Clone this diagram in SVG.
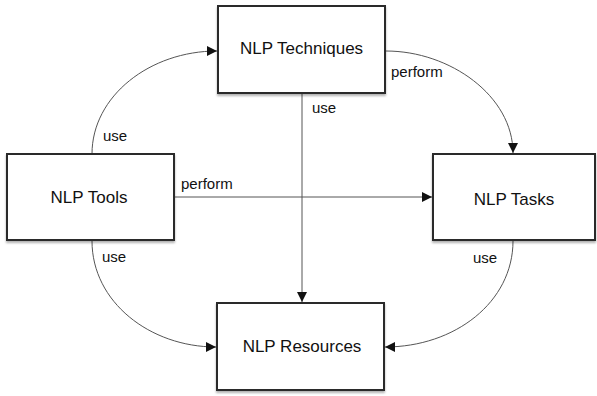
<svg xmlns="http://www.w3.org/2000/svg" width="597" height="396" viewBox="0 0 597 396">
<defs>
<marker id="arr" viewBox="0 0 10 10" refX="10" refY="5" markerWidth="10" markerHeight="10" markerUnits="userSpaceOnUse" orient="auto">
<path d="M0,0 L10,5 L0,10 z" fill="#111"/>
</marker>
<filter id="sh" x="-5%" y="-5%" width="115%" height="115%">
<feDropShadow dx="0" dy="2" stdDeviation="1" flood-color="#000" flood-opacity="0.3"/>
</filter>
</defs>
<style>
.box{fill:#fff;stroke:#2a2a2a;stroke-width:2;filter:url(#sh)}
.lbl{font-family:"Liberation Sans",Arial,sans-serif;font-size:17px;fill:#111;text-anchor:middle}
.el{font-family:"Liberation Sans",Arial,sans-serif;font-size:15px;fill:#111}
.c{fill:none;stroke:#555;stroke-width:1;marker-end:url(#arr)}
</style>
<rect width="597" height="396" fill="#fff"/>
<g id="connectors">
<path class="c" d="M92,154 C92,96 150,51 217,51"/>
<path class="c" d="M386,51 C450,51 513,96 513,153"/>
<path class="c" d="M175,197 L432,197"/>
<path class="c" d="M302,94 L302,302"/>
<path class="c" d="M92,241 C92,302 150,347 216,347"/>
<path class="c" d="M513,241 C513,302 455,347 385,347"/>
<text class="el" x="103" y="141">use</text>
<text class="el" x="391" y="77">perform</text>
<text class="el" x="312" y="113">use</text>
<text class="el" x="181" y="189">perform</text>
<text class="el" x="102" y="262">use</text>
<text class="el" x="473" y="263">use</text>
</g>
<g id="techniques">
<rect class="box" x="218" y="6" width="167" height="87"/>
<text class="lbl" x="301.5" y="54">NLP Techniques</text>
</g>
<g id="tools">
<rect class="box" x="7" y="154" width="167" height="86"/>
<text class="lbl" x="89" y="203">NLP Tools</text>
</g>
<g id="tasks">
<rect class="box" x="433" y="154" width="162" height="86"/>
<text class="lbl" x="514" y="205">NLP Tasks</text>
</g>
<g id="resources">
<rect class="box" x="217" y="303" width="167" height="87"/>
<text class="lbl" x="302" y="352">NLP Resources</text>
</g>
</svg>
